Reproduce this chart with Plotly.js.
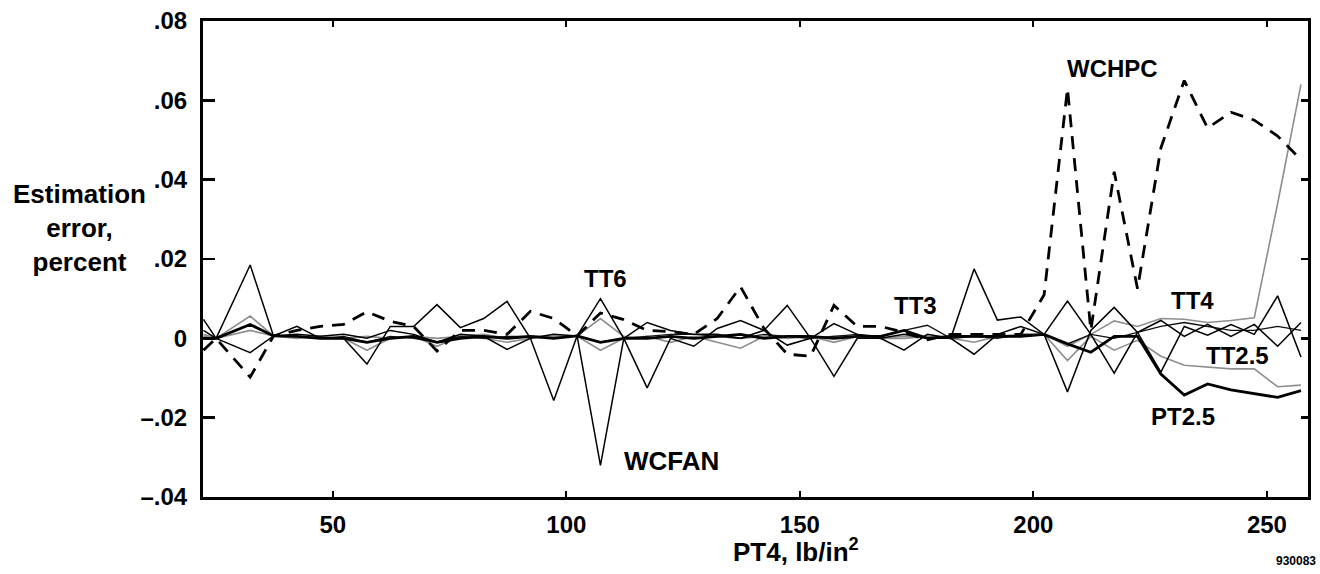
<!DOCTYPE html>
<html>
<head>
<meta charset="utf-8">
<script src="https://cdn.plot.ly/plotly-3.0.1.min.js"></script>
<style>
  html, body { margin: 0; padding: 0; background: #fff; }
  #chart { width: 1320px; height: 574px; }
</style>
</head>
<body>
<div id="chart"></div>
<script>
// PT4 operating points, lb/in^2
const pt4 = [22.3, 25, 32.3, 37.3, 42.3, 47.3, 52.3, 57.3, 62.3, 67.3, 72.3, 77.3,
  82.3, 87.3, 92.3, 97.3, 102.3, 107.3, 112.3, 117.3, 122.3, 127.3, 132.3, 137.3,
  142.3, 147.3, 152.3, 157.3, 162.3, 167.3, 172.3, 177.3, 182.3, 187.3, 192.3, 197.3,
  202.3, 207.3, 212.3, 217.3, 222.3, 227.3, 232.3, 237.3, 242.3, 247.3, 252.3, 257.3];

// Estimation error, percent, for each estimated parameter
const wchpc = [-0.003, 0, -0.0098, 0.0006, 0.002, 0.003, 0.0035, 0.0067, 0.0043, 0.003, -0.0032, 0.002,
  0.002, 0.001, 0.0068, 0.005, 0.0006, 0.0064, 0.0047, 0.002, 0.0017, 0.001, 0.005, 0.013,
  0.0025, -0.004, -0.0045, 0.0083, 0.003, 0.003, 0.0015, -0.0004, 0.001, 0.001, 0.001, 0.001,
  0.011, 0.063, 0.002, 0.042, 0.0125, 0.048, 0.065, 0.053, 0.057, 0.055, 0.051, 0.045];

const wcfan = [0.0048, 0, 0.0185, 0.0006, 0.003, 0.0, 0.0, -0.0065, 0.003, 0.003, 0.0085, 0.0027,
  0.005, 0.0093, 0.0, -0.0157, 0.0006, -0.032, 0.0, -0.0125, 0.0, -0.002, 0.0025, 0.0045,
  0.002, 0.0083, 0.0, -0.0096, 0.0, 0.0, -0.003, 0.001, 0.0, 0.0175, 0.0046, 0.0054,
  0.001, -0.0135, 0.002, 0.0078, 0.0015, -0.0085, 0.003, 0.0008, 0.0035, 0.001, 0.0107, -0.0047];

const tt6 = [0.002, 0, -0.0036, 0.0006, 0.001, 0.0005, 0.001, 0.0, 0.002, 0.001, -0.001, 0.001,
  0.0005, -0.0028, 0.0, 0.001, 0.0006, 0.010, 0.0, 0.004, 0.002, 0.001, 0.001, 0.0,
  0.002, -0.0017, 0.0, 0.0037, 0.001, 0.0, 0.001, 0.0, 0.0, -0.004, 0.001, 0.003,
  0.001, 0.0094, 0.001, -0.0088, 0.0015, 0.0045, 0.0005, 0.0035, 0.0005, 0.0035, -0.002, 0.004];

const tt3 = [0.0, 0, 0.0035, 0.0006, 0.0005, 0.0, 0.0005, -0.001, 0.0005, 0.0, -0.001, 0.0005,
  0.0, 0.0005, 0.0005, 0.0, 0.0006, -0.001, 0.0, 0.0005, 0.001, 0.001, 0.0005, 0.0,
  0.001, 0.0005, 0.0, 0.0005, 0.001, 0.0005, 0.002, 0.0033, 0.0, 0.0005, 0.0, 0.001,
  0.001, -0.0014, 0.001, 0.0, 0.0015, 0.003, 0.004, 0.003, 0.002, 0.002, 0.003, 0.002];

const pt25 = [0.0, 0, 0.0035, 0.0006, 0.0005, 0.0, 0.0, -0.001, 0.0, 0.0005, -0.001, 0.0,
  0.0005, 0.0, 0.0005, 0.0, 0.0006, -0.001, 0.0, 0.0, 0.0005, 0.0, 0.0005, 0.001,
  0.0, 0.0005, 0.0005, 0.0, 0.0005, 0.0005, 0.002, 0.0, 0.0005, 0.0005, 0.0005, 0.0005,
  0.001, -0.0014, -0.0035, 0.0005, 0.0005, -0.009, -0.0143, -0.0115, -0.013, -0.0139, -0.0149, -0.0132];

const tt25 = [0.001, 0, 0.0056, 0.0006, 0.0005, 0.0, 0.0, -0.003, 0.0, 0.0005, -0.002, 0.0005,
  0.0, -0.001, 0.0, 0.0005, 0.0006, -0.003, 0.0, 0.0005, -0.001, 0.0005, -0.001, -0.0025,
  0.0005, 0.0, 0.0005, -0.001, 0.0005, 0.0, 0.0, 0.0005, 0.0, -0.001, 0.0005, 0.001,
  0.001, -0.0056, 0.0005, -0.003, -0.0005, -0.0045, -0.0068, -0.0072, -0.0077, -0.0077, -0.0122, -0.0118];

const tt4 = [0.0005, 0, 0.002, 0.0006, 0.0, 0.0005, 0.0, 0.0005, 0.0, 0.0005, 0.0, 0.0005,
  0.001, 0.0, 0.0005, 0.0005, 0.0006, 0.005, 0.0005, 0.0, 0.0005, 0.0, 0.0005, 0.0,
  0.0005, 0.0005, 0.0, 0.0005, 0.0005, 0.0, 0.0005, 0.0005, 0.0, 0.0005, 0.0005, 0.0005,
  0.001, -0.002, 0.001, 0.0044, 0.003, 0.005, 0.0048, 0.004, 0.0045, 0.0052, 0.034, 0.064];

// Axis ticks
const xTicks = [50, 100, 150, 200, 250];
const xTickText = ['50', '100', '150', '200', '250'];
const yTicks = [-0.04, -0.02, 0, 0.02, 0.04, 0.06, 0.08];
const yTickText = ['\u2013.04', '\u2013.02', '0', '.02', '.04', '.06', '.08'];

// Curve labels placed next to their traces
const labelText = ['WCHPC', 'TT6', 'TT3', 'TT4', 'TT2.5', 'PT2.5', 'WCFAN'];
const labelX = [217, 108.3, 174.7, 234, 243.6, 232, 122.5];
const labelY = [0.068, 0.015, 0.0083, 0.0095, -0.0043, -0.0198, -0.031];

const FONT = 'Liberation Sans, Arial, Helvetica, sans-serif';
const gray = '#8e8e8e';
const XRANGE = [22.2, 258.8];
const YRANGE = [-0.04, 0.08];

function line(y, color, width, dash) {
  return { x: pt4, y: y, mode: 'lines', type: 'scatter', showlegend: false,
           hoverinfo: 'skip', line: { color: color, width: width, dash: dash || 'solid' } };
}

const traces = [
  line(tt25, gray, 1.6),
  line(tt4, gray, 1.6),
  line(tt3, '#111', 1.4),
  line(pt25, '#000', 2.8),
  line(tt6, '#000', 1.5),
  line(wcfan, '#000', 1.5),
  line(wchpc, '#000', 2.8, '13px,9px')
];
// invisible copy on the right-hand axis so its short ticks are drawn
traces.push({ x: pt4, y: wchpc, yaxis: 'y2', mode: 'lines', showlegend: false,
              hoverinfo: 'skip', line: { width: 0 }, opacity: 0 });

const annotations = labelText.map((t, i) => ({
  x: labelX[i], y: labelY[i], xref: 'x', yref: 'y', text: t, showarrow: false,
  font: { family: FONT, size: i === 6 ? 26 : 24, weight: 700, color: '#000' }
}));

// y-axis caption, written horizontally in three lines
annotations.push({
  xref: 'paper', yref: 'paper', x: -0.112, y: 0.565, xanchor: 'center', yanchor: 'middle',
  text: 'Estimation<br>error,<br>percent', showarrow: false, align: 'center',
  font: { family: FONT, size: 26, weight: 700, color: '#000' }
});
// x-axis caption
annotations.push({
  xref: 'paper', yref: 'paper', x: 0.537, y: -0.112, xanchor: 'center', yanchor: 'middle',
  text: 'PT4, lb/in<sup>2</sup>', showarrow: false,
  font: { family: FONT, size: 26, weight: 700, color: '#000' }
});
annotations.push({
  xref: 'paper', yref: 'paper', x: 1.009, y: -0.135, xanchor: 'right', yanchor: 'middle',
  text: '930083', showarrow: false,
  font: { family: FONT, size: 12, weight: 700, color: '#000' }
});

const layout = {
  width: 1320, height: 574,
  margin: { l: 203, r: 12, t: 21, b: 77 },
  paper_bgcolor: '#fff', plot_bgcolor: '#fff',
  font: { family: FONT, color: '#000' },
  xaxis: {
    range: XRANGE, tickvals: xTicks, ticktext: xTickText,
    ticks: 'inside', ticklen: 6, tickwidth: 2, tickcolor: '#000',
    showline: true, linewidth: 3, linecolor: '#000', mirror: 'ticks',
    showgrid: false, zeroline: false, ticklabelstandoff: 4,
    tickfont: { family: FONT, size: 24, weight: 700 }
  },
  yaxis: {
    range: YRANGE, tickvals: yTicks, ticktext: yTickText,
    ticks: 'inside', ticklen: 12, tickwidth: 2.5, tickcolor: '#000',
    showline: true, linewidth: 3, linecolor: '#000', mirror: false,
    showgrid: false, zeroline: false, ticklabelstandoff: 8,
    tickfont: { family: FONT, size: 24, weight: 700 }
  },
  yaxis2: {
    overlaying: 'y', side: 'right', range: YRANGE, tickvals: yTicks,
    ticks: 'inside', ticklen: 7, tickwidth: 2.5, tickcolor: '#000',
    showline: true, linewidth: 3, linecolor: '#000',
    showgrid: false, zeroline: false, showticklabels: false
  },
  annotations: annotations
};

Plotly.newPlot('chart', traces, layout, { displayModeBar: false, staticPlot: true });
</script>
</body>
</html>
